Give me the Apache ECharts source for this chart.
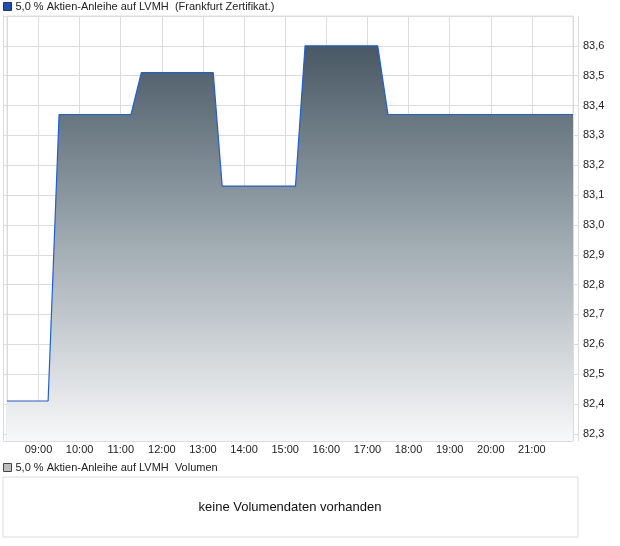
<!DOCTYPE html>
<html>
<head>
<meta charset="utf-8">
<script src="https://cdn.jsdelivr.net/npm/echarts@6/dist/echarts.min.js"></script>
<style>
html,body{margin:0;padding:0;background:#fff;}
#c{width:620px;height:546px;}
</style>
</head>
<body>
<div id="c"></div>
<script>
// ---- data ----
const seriesName = '5,0 % Aktien-Anleihe auf LVMH  (Frankfurt Zertifikat.)';
const volumeName = '5,0 % Aktien-Anleihe auf LVMH  Volumen';
const noVolumeText = 'keine Volumendaten vorhanden';
const times = ['08:14','09:14','09:30','11:15','11:30','13:15','13:28','15:15','15:29','17:15','17:30','22:00'];
const prices = [82.41, 82.41, 83.37, 83.37, 83.51, 83.51, 83.13, 83.13, 83.60, 83.60, 83.37, 83.37];
const yMin = 82.276;
const yMax = 83.70;
const xStart = '08:14';
const xEnd = '22:00';
const lastHourLabel = 21;

function ts(hhmm) {
  const [h, m] = hhmm.split(':').map(Number);
  return new Date(2024, 0, 15, h, m).getTime();
}
const lineData = times.map((t, i) => [ts(t), prices[i]]);

const chart = echarts.init(document.getElementById('c'), null, {renderer: 'canvas'});
const gridCol = '#dcdcdc';
const txtCol = '#222';
const font = 'Liberation Sans, Arial, sans-serif';

const yCommon = {
  type: 'value', min: yMin, max: yMax, splitNumber: 14, scale: true,
  gridIndex: 0
};

chart.setOption({
  animation: false,
  backgroundColor: '#fff',
  textStyle: {fontFamily: font},
  legend: [{
    left: 3, top: 1, padding: 0, itemWidth: 8, itemHeight: 8, itemGap: 5,
    textStyle: {fontSize: 11, color: txtCol, fontFamily: font, padding: [0,0,0,-1]},
    selectedMode: false,
    data: [{name: seriesName, icon: 'rect', itemStyle: {color: '#1a4fb5', borderColor: '#333', borderWidth: 1}}]
  }, {
    left: 3, top: 462, padding: 0, itemWidth: 8, itemHeight: 8,
    textStyle: {fontSize: 11, color: txtCol, fontFamily: font, padding: [0,0,0,-1]},
    selectedMode: false,
    data: [{name: volumeName, icon: 'rect', itemStyle: {color: '#bdbdbd', borderColor: '#444', borderWidth: 1}}]
  }],
  grid: [
    {left: 7, right: 47, top: 16, bottom: 105, show: true, borderColor: gridCol, borderWidth: 1},
    {left: 3, right: 42, top: 477, bottom: 9, show: true, borderColor: gridCol, borderWidth: 1}
  ],
  xAxis: [{
    type: 'time', gridIndex: 0,
    min: ts(xStart), max: ts(xEnd),
    minInterval: 3600 * 1000, maxInterval: 3600 * 1000,
    axisLine: {show: false}, axisTick: {show: false},
    splitLine: {show: true, lineStyle: {color: gridCol, width: 1}},
    axisLabel: {
      fontSize: 11, color: txtCol, margin: 3, fontFamily: font,
      showMinLabel: true, showMaxLabel: true, hideOverlap: false,
      formatter: function (v) {
        const d = new Date(v);
        if (d.getMinutes() !== 0 || d.getHours() > lastHourLabel || d.getHours() < 9) return '';
        return String(d.getHours()).padStart(2, '0') + ':00';
      }
    }
  }, {
    type: 'value', gridIndex: 1, show: false
  }],
  yAxis: [Object.assign({}, yCommon, {
    position: 'right', offset: 5,
    axisLine: {show: true, lineStyle: {color: gridCol}},
    axisTick: {show: true, inside: true, length: 5, lineStyle: {color: gridCol}},
    splitLine: {show: true, lineStyle: {color: gridCol, width: 1}},
    axisLabel: {
      fontSize: 11, color: txtCol, margin: 5, fontFamily: font,
      showMinLabel: false, showMaxLabel: false,
      formatter: v => v.toFixed(1).replace('.', ',')
    }
  }), Object.assign({}, yCommon, {
    position: 'left', offset: 4,
    axisLine: {show: true, lineStyle: {color: gridCol}},
    axisTick: {show: true, inside: true, length: 4, lineStyle: {color: gridCol}},
    splitLine: {show: false},
    axisLabel: {show: false}
  }), {
    type: 'value', gridIndex: 1, show: false
  }],
  series: [{
    name: seriesName, type: 'line', xAxisIndex: 0, yAxisIndex: 0,
    data: lineData, showSymbol: false, symbol: 'none',
    lineStyle: {color: '#1f5fd0', width: 1.2},
    itemStyle: {color: '#1a4fb5'},
    areaStyle: {
      origin: 'start', opacity: 1,
      color: new echarts.graphic.LinearGradient(0, 0, 0, 1, [
        {offset: 0, color: '#485864'},
        {offset: 0.5, color: '#a0abb2'},
        {offset: 1, color: '#f8f8f9'}
      ])
    }
  }, {
    name: volumeName, type: 'bar', xAxisIndex: 1, yAxisIndex: 2, data: [],
    itemStyle: {color: '#bdbdbd'}
  }],
  graphic: [{
    type: 'text', x: 290, y: 507,
    style: {text: noVolumeText, fontSize: 13, fill: '#111', fontFamily: font,
            align: 'center', verticalAlign: 'middle'}
  }]
});
</script>
</body>
</html>
